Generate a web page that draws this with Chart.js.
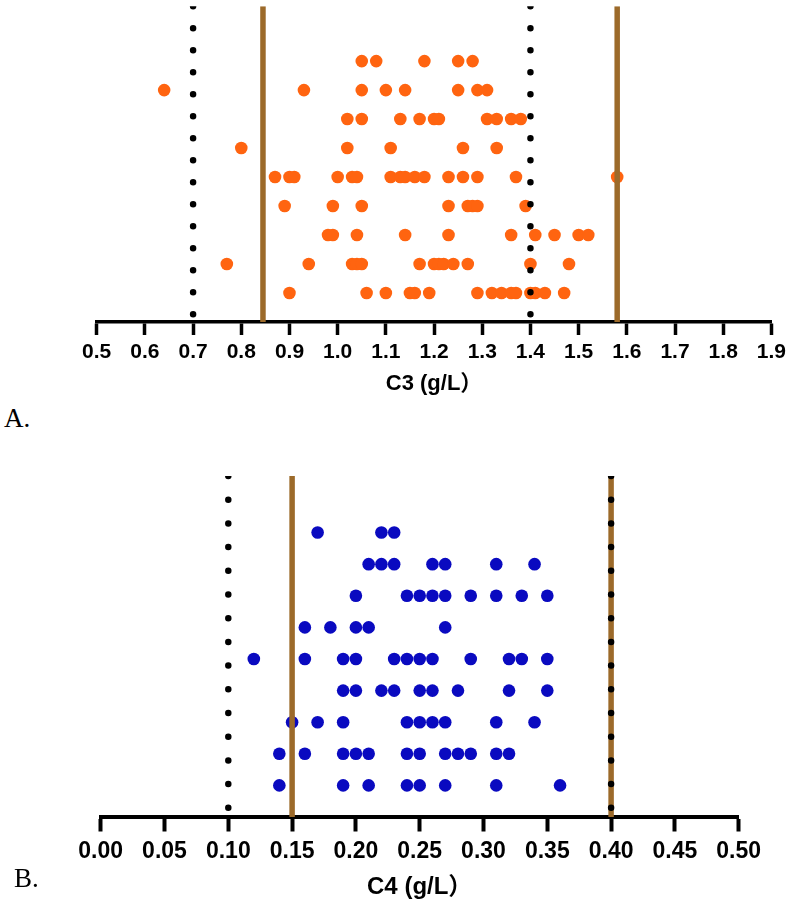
<!DOCTYPE html>
<html>
<head>
<meta charset="utf-8">
<script src="https://cdn.jsdelivr.net/npm/chart.js@4.4.1/dist/chart.umd.min.js"></script>
<style>
  html, body { margin: 0; padding: 0; background: #fff; }
  body { width: 791px; height: 907px; position: relative; overflow: hidden; }
  canvas { position: absolute; left: 0; }
  #chartA { top: 0; }
  #chartB { top: 450px; }
  .panel { position: absolute; font-family: "Liberation Serif", "Times New Roman", serif; font-size: 27px; color: #000; line-height: 1; }
</style>
</head>
<body>
<canvas id="chartA" width="791" height="400"></canvas>
<canvas id="chartB" width="791" height="457"></canvas>
<div class="panel" style="left:4px; top:405px;">A.</div>
<div class="panel" style="left:14px; top:865px;">B.</div>
<script>
// tick labels
const c3Ticks = [0.5, 0.6, 0.7, 0.8, 0.9, 1.0, 1.1, 1.2, 1.3, 1.4, 1.5, 1.6, 1.7, 1.8, 1.9];
const c4Ticks = [0.00, 0.05, 0.10, 0.15, 0.20, 0.25, 0.30, 0.35, 0.40, 0.45, 0.50];

// C3 values, one list per stacked row (bottom row first)
const c3Rows = [
    [0.90, 1.06, 1.10, 1.15, 1.16, 1.19, 1.29, 1.32, 1.34, 1.36, 1.37, 1.40, 1.41, 1.43, 1.47],
    [0.77, 0.94, 1.03, 1.04, 1.05, 1.17, 1.20, 1.21, 1.22, 1.24, 1.27, 1.40, 1.48],
    [0.98, 0.99, 1.04, 1.14, 1.23, 1.36, 1.41, 1.45, 1.50, 1.52],
    [0.89, 0.99, 1.05, 1.23, 1.27, 1.28, 1.29, 1.39],
    [0.87, 0.90, 0.91, 1.00, 1.03, 1.04, 1.11, 1.13, 1.14, 1.16, 1.18, 1.23, 1.26, 1.29, 1.37, 1.58],
    [0.80, 1.02, 1.11, 1.26, 1.33],
    [1.02, 1.05, 1.13, 1.17, 1.20, 1.21, 1.31, 1.33, 1.36, 1.38],
    [0.64, 0.93, 1.05, 1.10, 1.14, 1.25, 1.29, 1.31],
    [1.05, 1.08, 1.18, 1.25, 1.28]
];

// C4 values, one list per stacked row (bottom row first)
const c4Rows = [
    [0.14, 0.19, 0.21, 0.24, 0.25, 0.27, 0.31, 0.36],
    [0.14, 0.16, 0.19, 0.20, 0.21, 0.24, 0.25, 0.27, 0.28, 0.29, 0.31, 0.32],
    [0.15, 0.17, 0.19, 0.24, 0.25, 0.26, 0.27, 0.31, 0.34],
    [0.19, 0.20, 0.22, 0.23, 0.25, 0.26, 0.28, 0.32, 0.35],
    [0.12, 0.16, 0.19, 0.20, 0.23, 0.24, 0.25, 0.26, 0.29, 0.32, 0.33, 0.35],
    [0.16, 0.18, 0.20, 0.21, 0.27],
    [0.20, 0.24, 0.25, 0.26, 0.27, 0.29, 0.31, 0.33, 0.35],
    [0.21, 0.22, 0.23, 0.26, 0.27, 0.31, 0.34],
    [0.17, 0.22, 0.23]
];

// reference limits: dotted = normal range, solid = observed range
const c3Dotted = [0.7, 1.4];
const c3Solid = [0.845, 1.58];
const c4Dotted = [0.10, 0.40];
const c4Solid = [0.15, 0.40];

const BROWN = '#9C6A2A';
const LABEL_FONT = '"Liberation Sans", Arial, "Noto Sans CJK SC", sans-serif';

function vline(x, yMax, opts) {
    return Object.assign({
        type: 'line',
        data: [{ x: x, y: yMax }, { x: x, y: 0 }],
        pointRadius: 0,
        fill: false
    }, opts);
}

function makeChart(id, cfg) {
    const points = cfg.rows.flatMap((vals, i) => vals.map(v => ({ x: v, y: i + 1 })));
    const datasets = [{
        type: 'scatter',
        data: points,
        backgroundColor: cfg.color,
        borderWidth: 0,
        pointRadius: 6.3,
        order: 3
    }];
    cfg.solid.forEach(v => datasets.push(vline(v, cfg.yMax, {
        borderColor: BROWN, borderWidth: 5.5, order: 2
    })));
    cfg.dotted.forEach(v => datasets.push(vline(v, cfg.yMax, {
        borderColor: '#000', borderWidth: 6.5, borderDash: [0, cfg.dotGap],
        borderCapStyle: 'round', order: 1
    })));

    return new Chart(document.getElementById(id).getContext('2d'), {
        type: 'scatter',
        data: { datasets: datasets },
        options: {
            responsive: false,
            animation: false,
            layout: { padding: cfg.padding },
            plugins: { legend: { display: false }, tooltip: { enabled: false } },
            scales: {
                x: {
                    type: 'linear',
                    min: cfg.ticks[0],
                    max: cfg.ticks[cfg.ticks.length - 1],
                    afterBuildTicks: s => { s.ticks = cfg.ticks.map(v => ({ value: v })); },
                    afterFit: s => { s.height = cfg.axisHeight; },
                    border: { display: true, color: '#000', width: cfg.lineW },
                    grid: {
                        drawOnChartArea: false, drawTicks: true,
                        tickLength: cfg.tickLen, tickWidth: cfg.lineW, tickColor: '#000'
                    },
                    ticks: {
                        color: '#000', padding: cfg.tickPad, maxRotation: 0, autoSkip: false,
                        font: { family: LABEL_FONT, size: cfg.fontSize, weight: 'bold' },
                        callback: v => v.toFixed(cfg.decimals)
                    },
                    title: {
                        display: true, text: cfg.title, color: '#000',
                        padding: { top: 0, bottom: cfg.titlePad },
                        font: { family: LABEL_FONT, size: cfg.titleSize, weight: 'bold' }
                    }
                },
                y: { display: false, min: 0, max: cfg.yMax }
            }
        }
    });
}

makeChart('chartA', {
    rows: c3Rows, ticks: c3Ticks, dotted: c3Dotted, solid: c3Solid,
    color: '#FF6410', decimals: 1, title: 'C3 (g/L）',
    padding: { left: 96.7, right: 17.7, top: 3, bottom: 0 },
    yMax: 10.89, axisHeight: 78, dotGap: 22,
    lineW: 3.5, tickLen: 13, tickPad: 5, fontSize: 21, titleSize: 22, titlePad: 3
});

makeChart('chartB', {
    rows: c4Rows, ticks: c4Ticks, dotted: c4Dotted, solid: c4Solid,
    color: '#0A0AC0', decimals: 2, title: 'C4 (g/L）',
    padding: { left: 100.7, right: 52.3, top: 26, bottom: 0 },
    yMax: 10.79, axisHeight: 90, dotGap: 23.7,
    lineW: 4, tickLen: 14.5, tickPad: 6, fontSize: 23, titleSize: 24, titlePad: 5
});
</script>
</body>
</html>
